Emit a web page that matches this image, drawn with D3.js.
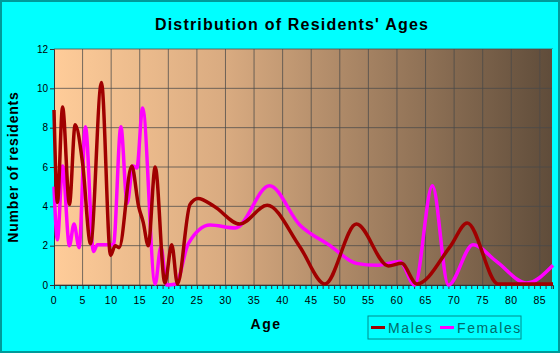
<!DOCTYPE html>
<html>
<head>
<meta charset="utf-8">
<script src="https://cdn.jsdelivr.net/npm/d3@7"></script>
<style>
  body { margin: 0; background: #00ffff; }
  svg { display: block; font-family: Arial, "Liberation Sans", sans-serif; }
</style>
</head>
<body>
<div id="chart"></div>
<script>
/* DATA */
const maleAges = [0, 0.6, 1.5, 2.7, 3.7, 5, 6.4, 8.3, 9.9, 10.7, 11.4, 13.6, 14.8, 15.6, 16.5, 17.7, 19.4, 20.6, 21.6, 23.8, 25.2, 28, 32.5, 37.3, 43, 47.4, 52.9, 58.5, 60.8, 63.5, 69.3, 72.3, 77.7, 87.3];
const maleValues = [8.9, 4.2, 9.05, 4.1, 8.15, 6.2, 2.1, 10.3, 1.5, 2.0, 1.9, 6.05, 4.0, 3.2, 2.0, 6.0, 0.1, 2.05, 0.05, 4.1, 4.4, 4.0, 3.1, 4.05, 1.95, 0.05, 3.1, 0.97, 1.1, 0.05, 1.95, 3.15, 0.05, 0.05];

const femaleAges = [0, 0.6, 1.5, 2.7, 3.5, 4.4, 5.5, 6.9, 7.6, 10.4, 11.7, 12.8, 13.8, 14.5, 15.5, 17.7, 18.7, 19.7, 21.3, 23.5, 27.3, 31.7, 37.7, 43, 48.3, 52.9, 56.4, 60.5, 63.1, 66.2, 69, 73.3, 77.4, 82.7, 87.3];
const femaleValues = [5.0, 2.3, 6.05, 2.0, 3.1, 1.9, 8.05, 1.7, 2.05, 2.05, 8.05, 4.15, 6.05, 5.95, 9.0, 0.05, 1.95, 0.0, 0.05, 2.1, 3.05, 2.9, 5.05, 3.05, 2.0, 1.1, 1.0, 1.2, 0.0, 5.05, 0.0, 2.05, 1.2, 0.1, 1.0];

const xTicks = d3.range(0, 86, 5);
const yTicks = [0, 2, 4, 6, 8, 10, 12];
const seriesNames = ["Males", "Females"];
const seriesColors = ["#a00000", "#ff00ff"];

/* LAYOUT */
const width = 560, height = 353;
const margin = {top: 49, right: 7, bottom: 68, left: 54};

const svg = d3.select("#chart")
  .append("svg")
  .attr("width", width)
  .attr("height", height);

// outer frame
svg.append("rect")
  .attr("x", 1).attr("y", 1)
  .attr("width", width - 2).attr("height", height - 2)
  .attr("fill", "#00ffff")
  .attr("stroke", "#009a9a")
  .attr("stroke-width", 2);

const x = d3.scaleLinear()
  .domain([0, 87.3])
  .range([margin.left, width - margin.right]);

const y = d3.scaleLinear()
  .domain([0, 12])
  .range([height - margin.bottom, margin.top]);

// plot background gradient
const defs = svg.append("defs");
const grad = defs.append("linearGradient")
  .attr("id", "bg")
  .attr("x1", "0%").attr("x2", "100%")
  .attr("y1", "0%").attr("y2", "0%");
grad.append("stop").attr("offset", "0%").attr("stop-color", "#ffcc99");
grad.append("stop").attr("offset", "35%").attr("stop-color", "#d8aa80");
grad.append("stop").attr("offset", "100%").attr("stop-color", "#5f4c3a");

svg.append("rect")
  .attr("x", x(0)).attr("y", y(12))
  .attr("width", x.range()[1] - x(0))
  .attr("height", y(0) - y(12))
  .attr("fill", "url(#bg)");

// grid
svg.append("g")
  .selectAll("line")
  .data(xTicks.slice(1))
  .join("line")
  .attr("x1", d => x(d)).attr("x2", d => x(d))
  .attr("y1", y(12)).attr("y2", y(0))
  .attr("stroke", "#4a4a4a")
  .attr("stroke-opacity", 0.75)
  .attr("stroke-width", 1);

svg.append("g")
  .selectAll("line")
  .data(yTicks)
  .join("line")
  .attr("x1", x(0)).attr("x2", x.range()[1])
  .attr("y1", d => y(d)).attr("y2", d => y(d))
  .attr("stroke", "#4a4a4a")
  .attr("stroke-opacity", 0.75)
  .attr("stroke-width", 1);

// right edge in cyan
svg.append("line")
  .attr("x1", x.range()[1]).attr("x2", x.range()[1])
  .attr("y1", y(12)).attr("y2", y(0))
  .attr("stroke", "#00ffff")
  .attr("stroke-width", 2);

// axes
const xAxis = d3.axisBottom(x)
  .tickValues(d3.range(0, 88, 1))
  .tickSize(4)
  .tickFormat("");
const xAxisG = svg.append("g")
  .attr("transform", `translate(0,${y(0)})`)
  .call(xAxis);
xAxisG.select(".domain").attr("stroke", "#333");
xAxisG.selectAll(".tick line").attr("stroke", "#333");

svg.append("g")
  .selectAll("text")
  .data(xTicks)
  .join("text")
  .attr("x", d => x(d))
  .attr("y", y(0) + 19)
  .attr("text-anchor", "middle")
  .style("font-size", "10.5px")
  .style("letter-spacing", "0.5px")
  .attr("fill", "#000")
  .text(d => d);

const yAxis = d3.axisLeft(y)
  .tickValues(yTicks)
  .tickSize(4)
  .tickFormat(d => d);
const yAxisG = svg.append("g")
  .attr("transform", `translate(${x(0)},0)`)
  .call(yAxis);
yAxisG.select(".domain").attr("stroke", "#333");
yAxisG.selectAll(".tick line").attr("stroke", "#333");
yAxisG.selectAll(".tick text")
  .attr("x", -6)
  .style("font-size", "10px")
  .style("font-family", "Arial, 'Liberation Sans', sans-serif")
  .attr("fill", "#000");

// lines
const line = d3.line()
  .x(d => x(d[0]))
  .y(d => y(d[1]))
  .curve(d3.curveMonotoneX);

const series = [
  d3.zip(maleAges, maleValues),
  d3.zip(femaleAges, femaleValues)
];

svg.append("g")
  .selectAll("path")
  .data([series[1], series[0]])
  .join("path")
  .attr("d", line)
  .attr("fill", "none")
  .attr("stroke", (d, i) => i === 0 ? seriesColors[1] : seriesColors[0])
  .attr("stroke-width", 3.5)
  .attr("stroke-linejoin", "round");

// titles
svg.append("text")
  .attr("x", 292)
  .attr("y", 30)
  .attr("text-anchor", "middle")
  .style("font-size", "16px")
  .style("font-weight", "bold")
  .style("letter-spacing", "1.2px")
  .text("Distribution of Residents' Ages");

svg.append("text")
  .attr("transform", `translate(18,${(y(0) + y(12)) / 2}) rotate(-90)`)
  .attr("text-anchor", "middle")
  .style("font-size", "14px")
  .style("font-weight", "bold")
  .style("letter-spacing", "0.8px")
  .text("Number of residents");

svg.append("text")
  .attr("x", 266)
  .attr("y", 329)
  .attr("text-anchor", "middle")
  .style("font-size", "14px")
  .style("font-weight", "bold")
  .style("letter-spacing", "1.5px")
  .text("Age");

// legend
const legend = svg.append("g").attr("transform", "translate(368,316)");
legend.append("rect")
  .attr("width", 153).attr("height", 23)
  .attr("fill", "none")
  .attr("stroke", "#008c8c")
  .attr("stroke-width", 1);

const legendX = [3, 72];
const item = legend.selectAll("g.item")
  .data(seriesNames)
  .join("g")
  .attr("class", "item")
  .attr("transform", (d, i) => `translate(${legendX[i]},11.5)`);
item.append("line")
  .attr("x1", 0).attr("x2", 14)
  .attr("stroke", (d, i) => seriesColors[i])
  .attr("stroke-width", 3);
item.append("text")
  .attr("x", 17)
  .attr("y", 5)
  .style("font-size", "14px")
  .style("letter-spacing", "1.6px")
  .attr("fill", "#006b6b")
  .text(d => d);
</script>
</body>
</html>
